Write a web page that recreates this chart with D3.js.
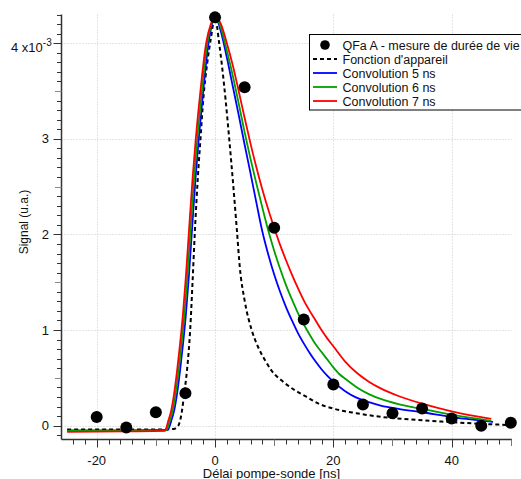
<!DOCTYPE html>
<html>
<head>
<meta charset="utf-8">
<script src="https://cdn.jsdelivr.net/npm/d3@7"></script>
<style>
  html, body { margin: 0; padding: 0; background: #fff; }
  svg { display: block; }
  text { font-family: Arial, "Liberation Sans", sans-serif; fill: #111; }
</style>
</head>
<body>
<svg id="chart" width="521" height="479"></svg>
<script>
// ---- Data (delay in ns, signal in units of 1e-3) ----
const pointX = [-20, -15, -10, -5, 0, 5, 10, 15, 20, 25, 30, 35, 40, 45, 50];
const pointY = [0.09, -0.02, 0.14, 0.34, 4.27, 3.54, 2.07, 1.11, 0.43, 0.22, 0.13, 0.18, 0.075, 0.0, 0.03];

const instrX = [-25, -10, -7, -6.5, -6, -5.6, -5.2, -4.7, -4.2, -3.8, -3.4, -2.9, -2.4, -2.0, -1.3, -0.7, 0, 0.7, 1.2, 1.8, 2.4, 3.1, 3.7, 4.2, 5.0, 6.2, 7.3, 8.4, 9.5, 11.5, 13.5, 15.5, 17.5, 19.9, 23.9, 28.3, 32.9, 39, 44.7, 50];
const instrY = [-0.04, -0.04, -0.035, -0.02, 0.03, 0.15, 0.34, 0.6, 1.0, 1.5, 2.04, 2.6, 3.05, 3.4, 3.8, 4.05, 4.27, 4.0, 3.75, 3.4, 3.0, 2.5, 2.04, 1.65, 1.31, 1.0, 0.82, 0.69, 0.58, 0.46, 0.37, 0.30, 0.23, 0.18, 0.13, 0.09, 0.065, 0.04, 0.02, 0.005];

const conv5X = [-25, -15, -8, -7.4, -6.9, -6.4, -5.9, -5.4, -4.9, -4.4, -3.9, -3.3, -2.75, -2.07, -1.1, -0.5, 0, 1, 2, 3, 4, 5, 6, 7, 8, 9, 10, 11, 12, 13, 14, 15, 16, 17, 18, 19, 20, 22, 24, 26, 28, 31, 35, 40, 44, 47];
const conv5Y = [-0.05, -0.05, -0.045, 0.05, 0.16, 0.34, 0.58, 0.86, 1.18, 1.58, 2.04, 2.58, 3.0, 3.45, 4.0, 4.2, 4.28, 4.12, 3.85, 3.55, 3.25, 2.94, 2.64, 2.33, 2.03, 1.79, 1.58, 1.40, 1.24, 1.10, 0.97, 0.86, 0.76, 0.67, 0.59, 0.52, 0.46, 0.36, 0.29, 0.245, 0.21, 0.175, 0.14, 0.09, 0.06, 0.04];

const conv6X = [-25, -15, -8.25, -7.65, -7.15, -6.65, -6.15, -5.65, -5.15, -4.65, -4.15, -3.55, -3.0, -2.3, -1.3, -0.6, 0, 1, 2, 3, 4, 5, 6, 7, 8, 9, 10, 11, 12, 13, 14, 15, 16, 17, 18, 19, 20, 21, 22, 24, 26, 28, 31, 35, 40, 44, 46.7];
const conv6Y = [-0.055, -0.055, -0.05, 0.05, 0.16, 0.34, 0.58, 0.86, 1.18, 1.58, 2.04, 2.58, 3.0, 3.45, 4.0, 4.2, 4.28, 4.16, 3.92, 3.66, 3.37, 3.07, 2.79, 2.53, 2.28, 2.04, 1.83, 1.64, 1.47, 1.32, 1.18, 1.06, 0.95, 0.85, 0.77, 0.69, 0.61, 0.54, 0.49, 0.40, 0.33, 0.28, 0.225, 0.175, 0.115, 0.075, 0.05];

const conv7X = [-25, -15, -8.5, -7.9, -7.4, -6.9, -6.4, -5.9, -5.4, -4.9, -4.4, -3.8, -3.25, -2.55, -1.5, -0.7, 0, 1, 2, 3, 4, 5, 6, 7, 8, 9, 10, 11, 12, 13, 14, 15, 16, 17, 18, 19, 20, 22, 24, 26, 28, 31, 35, 40, 44, 46.7];
const conv7Y = [-0.065, -0.06, -0.055, 0.05, 0.16, 0.34, 0.58, 0.86, 1.18, 1.58, 2.04, 2.58, 3.0, 3.45, 4.0, 4.2, 4.28, 4.2, 4.0, 3.77, 3.5, 3.22, 2.95, 2.70, 2.47, 2.26, 2.07, 1.89, 1.73, 1.58, 1.44, 1.31, 1.20, 1.10, 1.00, 0.91, 0.83, 0.67, 0.55, 0.46, 0.39, 0.31, 0.23, 0.15, 0.10, 0.07];

const xMajorTicks = [-20, 0, 20, 40];
const yMajorTicks = [0, 1, 2, 3, 4];
const legendLabels = ["QFa A - mesure de durée de vie", "Fonction d'appareil", "Convolution 5 ns", "Convolution 6 ns", "Convolution 7 ns"];

// ---- Setup ----
const svg = d3.select("#chart");
const x = d3.scaleLinear().domain([-25.95, 50.2]).range([61.5, 512]);
const y = d3.scaleLinear().domain([-0.145, 4.3]).range([439.5, 14.5]);
const axisColor = "#333";

// grid
const grid = svg.append("g");
grid.selectAll("line.gx").data(xMajorTicks).enter().append("line")
  .attr("x1", d => Math.round(x(d)) + 0.5).attr("x2", d => Math.round(x(d)) + 0.5)
  .attr("y1", y.range()[1]).attr("y2", y.range()[0])
  .attr("stroke", "#c8c8c8").attr("stroke-width", 1).attr("stroke-dasharray", "1,2");
grid.selectAll("line.gy").data(yMajorTicks).enter().append("line")
  .attr("x1", x.range()[0]).attr("x2", x.range()[1])
  .attr("y1", d => Math.round(y(d)) + 0.5).attr("y2", d => Math.round(y(d)) + 0.5)
  .attr("stroke", "#c8c8c8").attr("stroke-width", 1).attr("stroke-dasharray", "1,2");

// curves
const mk = (xs, ys) => xs.map((v, i) => [v, ys[i]]);
const line = d3.line().x(d => x(d[0])).y(d => y(d[1])).curve(d3.curveMonotoneX);

svg.append("path").attr("d", line(mk(instrX, instrY)))
  .attr("fill", "none").attr("stroke", "#000").attr("stroke-width", 2).attr("stroke-dasharray", "4,3");
const series = [
  { xs: conv5X, ys: conv5Y, color: "#0000ff" },
  { xs: conv6X, ys: conv6Y, color: "#00a000" },
  { xs: conv7X, ys: conv7Y, color: "#ff0000" }
];
series.forEach(s => {
  svg.append("path").attr("d", line(mk(s.xs, s.ys)))
    .attr("fill", "none").attr("stroke", s.color).attr("stroke-width", 1.8);
});

// points
svg.append("g").selectAll("circle").data(mk(pointX, pointY)).enter().append("circle")
  .attr("cx", d => x(d[0])).attr("cy", d => y(d[1])).attr("r", 6).attr("fill", "#000");

// x axis
const xAxisG = svg.append("g");
xAxisG.append("line").attr("x1", x.range()[0]).attr("x2", x.range()[1])
  .attr("y1", 439.5).attr("y2", 439.5).attr("stroke", axisColor).attr("stroke-width", 1.5);
const xMinor = d3.range(-24, 51, 2);
xAxisG.selectAll("line.t").data(xMinor).enter().append("line")
  .attr("x1", d => Math.round(x(d)) + 0.5).attr("x2", d => Math.round(x(d)) + 0.5)
  .attr("y1", 439.5).attr("y2", d => 439.5 + (d % 20 === 0 ? 8 : (d % 10 === 0 ? 6.5 : 5)))
  .attr("stroke", d => (d % 10 === 0 && d % 20 !== 0) ? "#777" : axisColor).attr("stroke-width", 1);
xAxisG.selectAll("text").data(xMajorTicks).enter().append("text")
  .attr("x", d => x(d)).attr("y", 465).attr("text-anchor", "middle")
  .attr("font-size", 13).text(d => d);

// y axis
const yAxisG = svg.append("g");
yAxisG.append("line").attr("x1", 61.5).attr("x2", 61.5)
  .attr("y1", y.range()[1]).attr("y2", y.range()[0]).attr("stroke", axisColor).attr("stroke-width", 1.5);
const yMinor = d3.range(-1, 44, 1).map(v => v / 10);
yAxisG.selectAll("line.t").data(yMinor).enter().append("line")
  .attr("x1", d => {
    const k = Math.round(d * 10);
    return 61.5 - (k % 10 === 0 ? 8 : (k % 5 === 0 ? 6.5 : 4.5));
  })
  .attr("x2", 61.5)
  .attr("y1", d => Math.round(y(d)) + 0.5).attr("y2", d => Math.round(y(d)) + 0.5)
  .attr("stroke", d => { const k = Math.round(d * 10); return (k % 5 === 0 && k % 10 !== 0) ? "#888" : axisColor; })
  .attr("stroke-width", 1);
yAxisG.selectAll("text.yl").data(yMajorTicks.filter(d => d !== 4)).enter().append("text")
  .attr("x", 49).attr("y", d => y(d) + 4.6).attr("text-anchor", "end")
  .attr("font-size", 13).text(d => d);
const topLab = yAxisG.append("text").attr("x", 11).attr("y", y(4) + 8.5).attr("font-size", 13);
topLab.append("tspan").text("4 x10");
topLab.append("tspan").attr("dy", -6).attr("font-size", 10).text("-3");

// axis titles
svg.append("text").attr("transform", "translate(27.5,222) rotate(-90)")
  .attr("text-anchor", "middle").attr("font-size", 12).text("Signal (u.a.)");
svg.append("text").attr("x", 271.5).attr("y", 478).attr("text-anchor", "middle")
  .attr("font-size", 13).text("Délai pompe-sonde [ns]");

// legend
const lg = svg.append("g");
lg.append("rect").attr("x", 309.5).attr("y", 34.5).attr("width", 215).attr("height", 75.5)
  .attr("fill", "#fff").attr("stroke", "#000").attr("stroke-width", 1);
const rowY = i => 45 + i * 14;
lg.append("circle").attr("cx", 325).attr("cy", rowY(0)).attr("r", 4.8).attr("fill", "#000");
lg.append("line").attr("x1", 313).attr("x2", 337).attr("y1", rowY(1)).attr("y2", rowY(1))
  .attr("stroke", "#000").attr("stroke-width", 2).attr("stroke-dasharray", "4,3");
series.forEach((s, i) => {
  lg.append("line").attr("x1", 313).attr("x2", 337).attr("y1", rowY(i + 2)).attr("y2", rowY(i + 2))
    .attr("stroke", s.color).attr("stroke-width", 1.8);
});
lg.selectAll("text").data(legendLabels).enter().append("text")
  .attr("x", 342.5).attr("y", (d, i) => rowY(i) + 4.5).attr("font-size", 12.5).text(d => d);
</script>
</body>
</html>
